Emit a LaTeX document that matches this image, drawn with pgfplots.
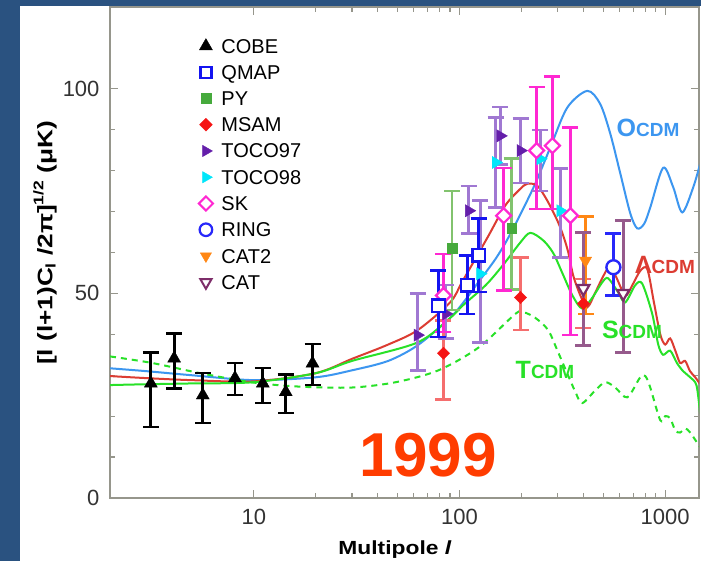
\documentclass[border=0pt]{standalone}
\usepackage{pgfplots}
\pgfplotsset{compat=1.18}
\usepackage{pgfplotstable}
\usepackage{fontspec}
\setmainfont{Liberation Sans}
\usetikzlibrary{plotmarks}

\definecolor{bgblue}{RGB}{42,82,128}
\definecolor{ocdm}{RGB}{60,150,240}
\definecolor{lcdm}{RGB}{220,60,50}
\definecolor{scdm}{RGB}{40,225,40}
\definecolor{qmap}{RGB}{20,20,240}
\definecolor{pyc}{RGB}{70,170,60}
\definecolor{pybar}{RGB}{130,195,110}
\definecolor{msam}{RGB}{245,20,20}
\definecolor{msambar}{RGB}{245,110,110}
\definecolor{toco7}{RGB}{100,30,170}
\definecolor{tocobar}{RGB}{160,120,210}
\definecolor{toco8}{RGB}{0,230,250}
\definecolor{skc}{RGB}{255,40,210}
\definecolor{ring}{RGB}{40,40,250}
\definecolor{cat2}{RGB}{255,135,20}
\definecolor{catc}{RGB}{125,45,105}
\definecolor{catbar}{RGB}{150,90,140}
\definecolor{axgray}{RGB}{150,150,140}
\definecolor{yr}{RGB}{255,60,0}

\pgfplotstableread{
l v ep em
3.16 28 7.6 10.7
4.1 34.1 6.1 7.3
5.65 25.1 5.4 6.8
8.1 29.3 3.7 4.2
11.06 28 3.7 4.8
14.3 25.9 4.3 5.2
19.3 32.9 4.7 5.3
}\cobe
\pgfplotstableread{
l v ep em
79 47 8.6 7.7
109 52 7.3 7
124 59.3 9 9
}\qmap
\pgfplotstableread{
l v ep em
92 61 14 15
179 66 17 15
}\py
\pgfplotstableread{
l v ep em
83.6 35.4 8 11.3
198 49 9.8 8
400 47.5 6 6
}\msam
\pgfplotstableread{
l v ep em
62.5 39.8 10.2 8.6
86 45 7 6
111 70.2 6.1 5.6
158 88.5 7 7
198 84.9 7.8 7.9
}\tocoA
\pgfplotstableread{
l v ep em
126 54.8 17.9 16.8
150 82 11 11
247 82.9 7.1 7.9
309 70.2 10.3 11.4
}\tocoB
\pgfplotstableread{
l v ep em
83.6 49.5 10.2 9
164 69 11.7 18.3
237 84.9 15.6 14.2
283 86.1 16.9 15.4
346 69 21.5 29.2
}\sk
\pgfplotstableread{
l v ep em
560 56.4 8.2 6.9
}\ring
\pgfplotstableread{
l v ep em
410 58 10.8 13
}\cattwo
\pgfplotstableread{
l v ep em
400 51.2 13.7 13.9
625 50 17.8 14.4
}\cat

\pgfplotstableread{
l v
2 31.7
3 31
5 30
10 28.8
20 29.5
30 31.2
45 33.5
62.5 37.3
90 44
109 49
122 52.4
150 58.5
177 64.6
229 75.9
276 85.6
334 95.4
418 99.5
483 96.3
541 89
605 79.3
677 69.5
731 65.9
790 67
846 71
977 80.7
1093 76
1210 69.8
1368 75.9
1479 81.7
}\ocdmcurve
\pgfplotstableread{
l v
2 29.8
3 29.3
5 28.8
10 28.5
20 30.5
30 34
45 37.5
62.5 41
90 47.8
103.5 53
138 64
167 71.5
198 75.6
214 76.8
239 76.3
267 72.7
299 67.8
320 64
338 60
357 54.4
387 49.5
418 46.6
457 50.2
494 53.7
528 56
572 54.4
639 49.5
692 52
756 55.5
818 56
880 48
946 40
1000 37.5
1057 39
1120 36
1182 33
1250 33.5
1320 31
1400 29.5
1470 28
}\lcdmcurve
\pgfplotstableread{
l v
2 27.6
3 27.8
5 28
10 28.3
20 30.5
30 33.5
62.5 38
90 44
103.5 47
134 52
162 56.8
198 62.5
221 64.8
256 62.9
286 59.8
316 55
354 49.5
395 46.3
443 49
494 52.7
528 53.7
592 50.2
639 47.8
715 52
773 52.4
865 45
925 37.5
977 35
1057 36
1140 33
1222 31
1322 29.5
1420 27.5
1479 20.5
}\scdmcurve
\pgfplotstableread{
l v
2 34.6
3.2 33
5.5 30.5
10 28.2
17 27.2
30 27
49 28.3
79 31.2
124 36.8
187 45
205 45.4
234 44
270 41
303 35.4
366 25.9
395 23.2
457 26.3
511 28.3
572 27
654 24.6
756 29.5
800 29.8
846 27
946 19
1000 20
1057 19.5
1120 16.5
1182 16
1250 17
1322 16
1479 12.4
}\tcdmcurve

\pgfplotsset{
  eb/.style={only marks, forget plot,
    /pgfplots/error bars/y dir=both, /pgfplots/error bars/y explicit,
    /pgfplots/error bars/error bar style={color=#1, line width=2.8pt},
    /pgfplots/error bars/error mark options={rotate=90, color=#1, line width=2.4pt, mark size=8pt}},
}

\begin{document}
\begin{tikzpicture}[x=1pt,y=1pt]
\useasboundingbox (0,0) rectangle (701,561);
\fill[bgblue] (0,0) rectangle (701,561);
\fill[white] (20,0) rectangle (701,555);
\begin{axis}[
  at={(110pt,63pt)}, anchor=south west, scale only axis,
  width=589pt, height=491pt,
  xmode=log, xmin=2, xmax=1460, ymin=0, ymax=120,
  xtick={10,100,1000}, xticklabels={10,100,1000},
  ytick={0,50,100}, yticklabels={0,50,100}, minor y tick num=4,
  tick align=inside, major tick length=8pt, minor tick length=5pt,
  axis line style={axgray, line width=1.2pt},
  every tick/.style={axgray, line width=1.2pt},
  tick label style={font=\fontsize{22}{22}\selectfont, text=black!80},
  xticklabel style={yshift=-8pt}, yticklabel style={xshift=-7pt},
  legend style={at={(axis description cs:0.1505,0.938)}, anchor=north west,
    draw=none, fill=none, font=\fontsize{20}{20}\selectfont,
    legend cell align=left, row sep=9.3pt, column sep=7pt, inner sep=0pt,
    nodes={inner sep=1.5pt, text depth=0pt}},
]
% model curves
\addplot[ocdm, line width=2pt, smooth, no marks, forget plot] table[x=l,y=v]{\ocdmcurve};
\addplot[lcdm, line width=2pt, smooth, no marks, forget plot] table[x=l,y=v]{\lcdmcurve};
\addplot[scdm, line width=2pt, smooth, no marks, forget plot] table[x=l,y=v]{\scdmcurve};
\addplot[scdm, line width=2pt, smooth, no marks, dash pattern=on 6pt off 5pt, forget plot] table[x=l,y=v]{\tcdmcurve};
% data
\addplot[eb=black, mark=triangle*, mark size=7.5pt, mark options={fill=black, draw=black}]
  table[x=l,y=v,y error plus=ep,y error minus=em]{\cobe};
\addplot[eb=pybar, mark=square*, mark size=4.8pt, mark options={fill=pyc, draw=pyc}]
  table[x=l,y=v,y error plus=ep,y error minus=em]{\py};
\addplot[eb=msambar, mark=square*, mark size=4.3pt, mark options={rotate=45, fill=msam, draw=msam}]
  table[x=l,y=v,y error plus=ep,y error minus=em]{\msam};
\addplot[eb=tocobar, mark=triangle*, mark size=7pt, mark options={rotate=-90, fill=toco7, draw=toco7}]
  table[x=l,y=v,y error plus=ep,y error minus=em]{\tocoA};
\addplot[eb=tocobar, mark=triangle*, mark size=7pt, mark options={rotate=-90, fill=toco8, draw=toco8}]
  table[x=l,y=v,y error plus=ep,y error minus=em]{\tocoB};
\addplot[eb=skc, mark=square*, mark size=5.3pt, mark options={rotate=45, fill=white, draw=skc, line width=2.2pt}]
  table[x=l,y=v,y error plus=ep,y error minus=em]{\sk};
\addplot[eb=qmap, mark=square*, mark size=6.3pt, mark options={fill=white, draw=qmap, line width=2.4pt}]
  table[x=l,y=v,y error plus=ep,y error minus=em]{\qmap};
\addplot[eb=ring, mark=*, mark size=7pt, mark options={fill=white, draw=ring, line width=2.4pt}]
  table[x=l,y=v,y error plus=ep,y error minus=em]{\ring};
\addplot[eb=cat2, mark=triangle*, mark size=7pt, mark options={rotate=180, fill=cat2, draw=cat2}]
  table[x=l,y=v,y error plus=ep,y error minus=em]{\cattwo};
\addplot[eb=catbar, mark=triangle*, mark size=7pt, mark options={rotate=180, fill=white, draw=catc, line width=2.2pt}]
  table[x=l,y=v,y error plus=ep,y error minus=em]{\cat};
% legend
\addlegendimage{only marks, mark=triangle*, mark size=7.5pt, mark options={fill=black, draw=black}}
\addlegendentry{COBE}
\addlegendimage{only marks, mark=square*, mark size=5.5pt, mark options={fill=white, draw=qmap, line width=2.2pt}}
\addlegendentry{QMAP}
\addlegendimage{only marks, mark=square*, mark size=5pt, mark options={fill=pyc, draw=pyc}}
\addlegendentry{PY}
\addlegendimage{only marks, mark=square*, mark size=4.5pt, mark options={rotate=45, fill=msam, draw=msam}}
\addlegendentry{MSAM}
\addlegendimage{only marks, mark=triangle*, mark size=6.5pt, mark options={rotate=-90, fill=toco7, draw=toco7}}
\addlegendentry{TOCO97}
\addlegendimage{only marks, mark=triangle*, mark size=6.5pt, mark options={rotate=-90, fill=toco8, draw=toco8}}
\addlegendentry{TOCO98}
\addlegendimage{only marks, mark=square*, mark size=5pt, mark options={rotate=45, fill=white, draw=skc, line width=2pt}}
\addlegendentry{SK}
\addlegendimage{only marks, mark=*, mark size=6.3pt, mark options={fill=white, draw=ring, line width=2.2pt}}
\addlegendentry{RING}
\addlegendimage{only marks, mark=triangle*, mark size=6.5pt, mark options={rotate=180, fill=cat2, draw=cat2}}
\addlegendentry{CAT2}
\addlegendimage{only marks, mark=triangle*, mark size=6.5pt, mark options={rotate=180, fill=white, draw=catc, line width=2pt}}
\addlegendentry{CAT}
\end{axis}
% axis titles and annotations
\node[rotate=90, font=\bfseries\fontsize{21}{21}\selectfont] at (45,318)
  {\scalebox{1.25}[1]{[l (l+1)C\raisebox{-0.3ex}{\fontsize{14}{14}\selectfont l} /2π]\raisebox{0.8ex}{\fontsize{14}{14}\selectfont 1/2} (μK)}};
\node[font=\bfseries\fontsize{19}{19}\selectfont] at (395,11) {\scalebox{1.2}[1]{Multipole \textit{l}}};
\node[text=yr, font=\bfseries\fontsize{62}{62}\selectfont] at (428,106) {1999};
\node[text=ocdm, font=\bfseries] at (648,433) {\fontsize{25}{25}\selectfont O\fontsize{19}{19}\selectfont CDM};
\node[text=lcdm, font=\bfseries] at (665,296) {\fontsize{25}{25}\selectfont Λ\fontsize{19}{19}\selectfont CDM};
\node[text=scdm, font=\bfseries] at (632,231) {\fontsize{25}{25}\selectfont S\fontsize{19}{19}\selectfont CDM};
\node[text=scdm, font=\bfseries] at (545,191) {\fontsize{25}{25}\selectfont T\fontsize{19}{19}\selectfont CDM};
\end{tikzpicture}
\end{document}
